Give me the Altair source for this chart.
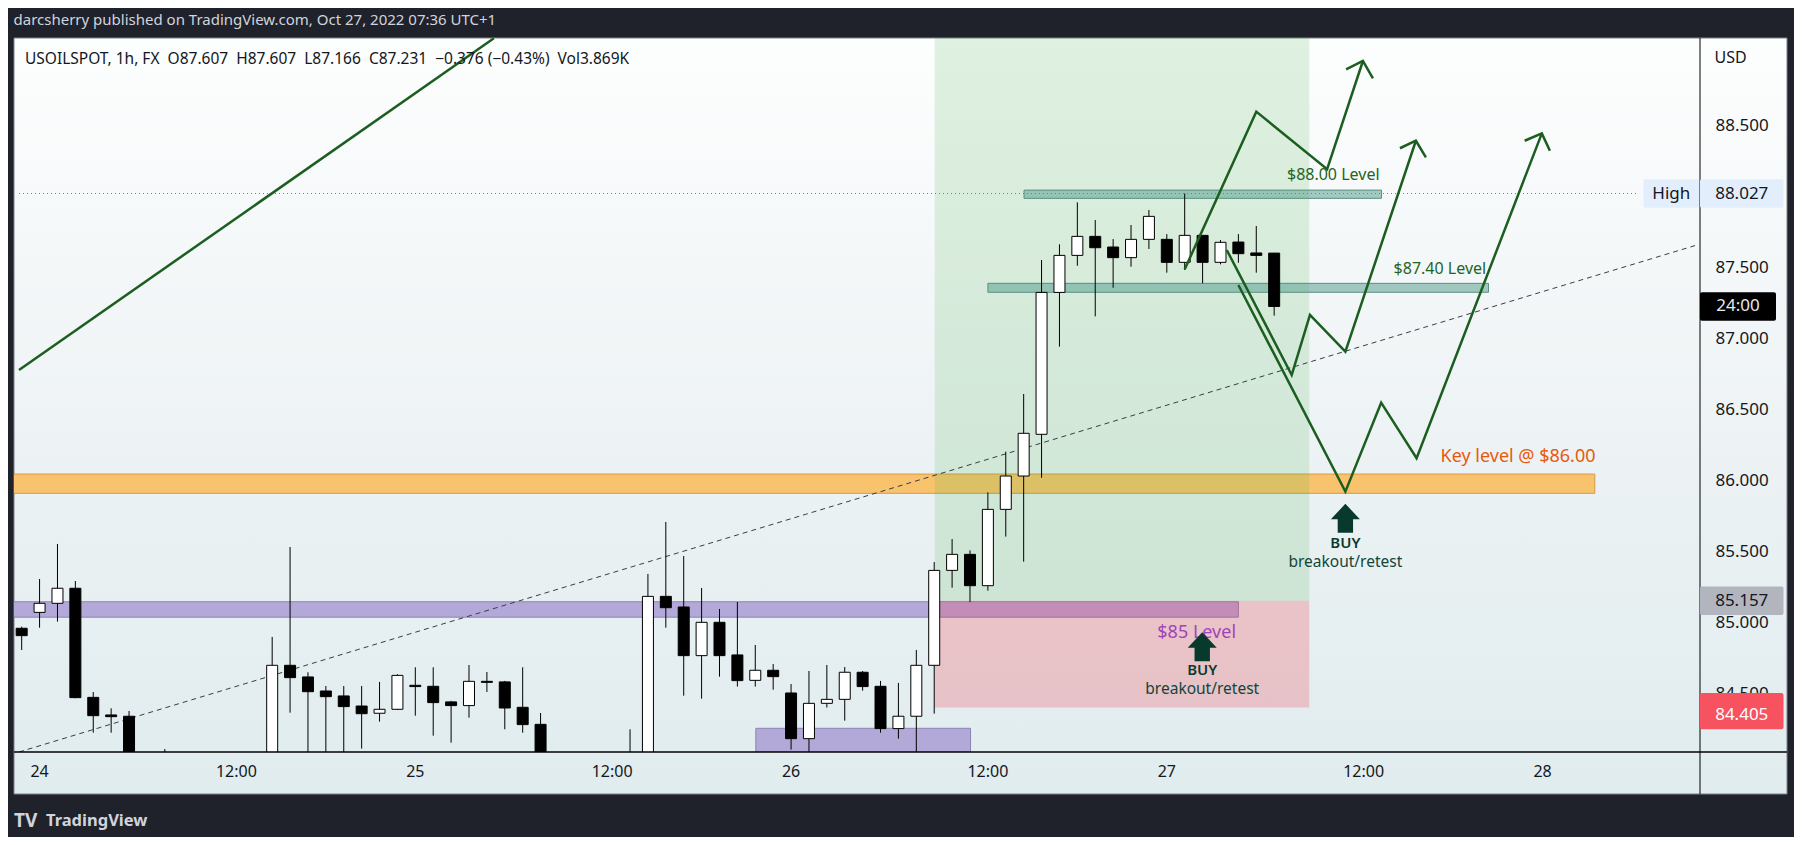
import altair as alt
import pandas as pd

FONT = "Noto Sans"

# ---------------- candles: 1h bars, index 0 = 24 Oct 00:00 ----------------
bar_idx = [-1, 0, 1, 2, 3, 4, 5, 7, 13, 14, 15, 16, 17, 18, 19, 20, 21, 22, 23, 24,
           25, 26, 27, 28, 33, 34, 35, 36, 37, 38, 39, 40, 41, 42, 43, 44, 45, 46, 47, 48,
           49, 50, 51, 52, 53, 54, 55, 56, 57, 58, 59, 60, 61, 62, 63, 64, 65, 66, 67, 68, 69]
opens = [84.963, 85.075, 85.139, 85.245, 84.476, 84.352, 84.343, 84.050, 83.980, 84.702,
         84.620, 84.521, 84.486, 84.415, 84.364, 84.392, 84.561, 84.554, 84.444, 84.418,
         84.589, 84.585, 84.406, 84.286, 84.000, 83.980, 85.188, 85.113, 84.770, 85.005,
         84.775, 84.596, 84.667, 84.507, 84.185, 84.434, 84.462, 84.653, 84.554, 84.256,
         84.343, 84.702, 85.371, 85.484, 85.263, 85.801, 86.036, 86.330, 87.330, 87.591,
         87.725, 87.650, 87.575, 87.704, 87.704, 87.542, 87.732, 87.542, 87.685, 87.608, 87.607]
highs = [84.974, 85.310, 85.557, 85.296, 84.514, 84.399, 84.380, 84.112, 84.902, 85.536,
         84.653, 84.556, 84.556, 84.556, 84.585, 84.639, 84.688, 84.688, 84.451, 84.704,
         84.655, 84.592, 84.688, 84.366, 84.251, 85.346, 85.712, 85.472, 85.247, 85.099,
         85.148, 84.845, 84.711, 84.570, 84.662, 84.704, 84.690, 84.662, 84.592, 84.578,
         84.810, 85.430, 85.592, 85.512, 85.921, 86.208, 86.614, 87.558, 87.669, 87.965,
         87.840, 87.706, 87.805, 87.911, 87.741, 88.027, 87.732, 87.699, 87.741, 87.798, 87.607]
lows = [84.810, 84.967, 85.010, 84.470, 84.227, 84.227, 83.900, 83.900, 83.950, 84.368,
        84.050, 84.070, 84.080, 84.115, 84.305, 84.387, 84.347, 84.206, 84.157, 84.333,
        84.514, 84.251, 84.227, 83.900, 83.900, 83.950, 84.967, 84.488, 84.467, 84.622,
        84.552, 84.552, 84.530, 84.108, 84.050, 84.404, 84.312, 84.523, 84.227, 84.185,
        84.070, 84.361, 85.249, 85.148, 85.228, 85.609, 85.432, 86.024, 86.948, 87.518,
        87.161, 87.363, 87.511, 87.636, 87.469, 87.488, 87.394, 87.528, 87.539, 87.469, 87.166]
closes = [84.911, 85.139, 85.245, 84.474, 84.347, 84.340, 83.950, 83.980, 84.702, 84.615,
          84.516, 84.481, 84.411, 84.361, 84.392, 84.631, 84.552, 84.439, 84.418, 84.589,
          84.582, 84.401, 84.284, 83.950, 83.950, 85.188, 85.108, 84.770, 85.005, 84.770,
          84.594, 84.667, 84.622, 84.185, 84.434, 84.462, 84.653, 84.552, 84.256, 84.343,
          84.702, 85.371, 85.484, 85.263, 85.801, 86.036, 86.337, 87.330, 87.591, 87.725,
          87.645, 87.575, 87.704, 87.866, 87.542, 87.732, 87.542, 87.683, 87.603, 87.591, 87.231]

# ---------------- axes ----------------
time_tick_idx = [0, 11, 21, 32, 42, 53, 63, 74, 84]
time_tick_labels = ["24", "12:00", "25", "12:00", "26", "12:00", "27", "12:00", "28"]
price_ticks = [84.5, 85.0, 85.5, 86.0, 86.5, 87.0, 87.5, 88.5]

# ---------------- drawings ----------------
path_ids = ["up"] * 2 + ["A"] * 4 + ["Ah"] * 3 + ["B"] * 5 + ["Bh"] * 3 + ["C"] * 5 + ["Ch"] * 3
path_i = [-1.15, 25.39,
          64.0, 68.0, 71.96, 73.96,
          73.02, 73.96, 74.52,
          66.35, 69.98, 71.0, 72.98, 76.92,
          76.03, 76.92, 77.48,
          67.0, 72.98, 74.98, 76.96, 83.96,
          83.0, 83.96, 84.41]
path_p = [86.783, 89.121,
          87.493, 88.604, 88.198, 88.961,
          88.902, 88.961, 88.839,
          87.629, 86.748, 87.171, 86.912, 88.399,
          88.346, 88.399, 88.282,
          87.382, 85.926, 86.553, 86.161, 88.451,
          88.399, 88.451, 88.329]

trend_i = [-1.15, 92.52]
trend_p = [84.091, 87.660]

high_price = 88.027
high_span = [-1.15, 89.35]

key_band = {"i0": -2.0, "i1": 86.92, "p0": 85.914, "p1": 86.050}
purple_bands_i0 = [-2.0, 40.03]
purple_bands_i1 = [67.0, 52.03]
purple_bands_p0 = [85.041, 83.90]
purple_bands_p1 = [85.150, 84.258]
teal_bands_i0 = [55.02, 53.0]
teal_bands_i1 = [75.0, 80.98]
teal_bands_p0 = [87.993, 87.331]
teal_bands_p1 = [88.051, 87.394]

pos_i0, pos_i1 = 50.03, 70.96
entry_price, stop_price, target_price = 85.157, 84.405, 89.6

level_texts = ["$88.00 Level", "$87.40 Level"]
level_i = [74.89, 80.85]
level_p = [88.158, 87.497]
key_text, key_i, key_p = "Key level @ $86.00", 86.96, 86.168
p85_text, p85_i, p85_p = "$85 Level", 66.87, 84.928

buy_i = [64.98, 72.98]
buy_arrow_p = [84.833, 85.738]
buy_word_p = [84.666, 85.561]
buy_sub_p = [84.532, 85.427]

header_text = "darcsherry published on TradingView.com, Oct 27, 2022 07:36 UTC+1"
legend_text = ("USOILSPOT, 1h, FX\u00a0\u00a0O87.607\u00a0\u00a0H87.607\u00a0\u00a0L87.166\u00a0\u00a0"
               "C87.231\u00a0\u00a0\u22120.376 (\u22120.43%)\u00a0\u00a0Vol3.869K")

# ---------------- scales ----------------
xs = alt.Scale(domain=[-1.15, 92.52], nice=False, zero=False)
ys = alt.Scale(domain=[84.091, 89.123], nice=False, zero=False)


def X(f):
    return alt.X(f, type="quantitative", scale=xs, axis=None)


def X2(f):
    return alt.X2(f)


def Y(f):
    return alt.Y(f, type="quantitative", scale=ys, axis=None)


W, H = 1686, 714
one = pd.DataFrame({"k": [0]})

candles = pd.DataFrame({"i": bar_idx, "o": opens, "h": highs, "l": lows, "c": closes})
paths = pd.DataFrame({"pid": path_ids, "i": path_i, "p": path_p})
paths["ord"] = range(len(paths))

panel = alt.Chart(one).mark_rect(
    fill=alt.LinearGradient(gradient="linear", x1=0, y1=0, x2=0, y2=1,
                            stops=[alt.GradientStop(color="#fdfefe", offset=0),
                                   alt.GradientStop(color="#eef3f5", offset=0.5),
                                   alt.GradientStop(color="#e0ecee", offset=1)]),
    stroke="#7d8189", strokeWidth=1
).encode(x=alt.value(0), x2=alt.value(1773), y=alt.value(0), y2=alt.value(756))

divider = alt.Chart(one).mark_rule(color="#000000", strokeWidth=1).encode(
    x=alt.value(W), y=alt.value(0), y2=alt.value(756))
xline = alt.Chart(one).mark_rule(color="#000000", strokeWidth=1.5).encode(
    x=alt.value(0), x2=alt.value(1773), y=alt.value(H))

kb = pd.DataFrame({k: [v] for k, v in key_band.items()})
key_rect = alt.Chart(kb).mark_rect(fill="#f8c36c", stroke="#d49a4a", strokeWidth=1, clip=True).encode(
    x=X("i0"), x2=X2("i1"), y=Y("p0"), y2=alt.Y2("p1"))

pb = pd.DataFrame({"i0": purple_bands_i0, "i1": purple_bands_i1, "p0": purple_bands_p0, "p1": purple_bands_p1})
purple_rect = alt.Chart(pb).mark_rect(fill="#b3a9d9", stroke="#8c84b4", strokeWidth=1, clip=True).encode(
    x=X("i0"), x2=X2("i1"), y=Y("p0"), y2=alt.Y2("p1"))

pos = pd.DataFrame({"i0": [pos_i0], "i1": [pos_i1], "e": [entry_price], "s": [stop_price], "t": [target_price]})
green_rect = alt.Chart(pos).mark_rect(fill="#4caf50", fillOpacity=0.17, clip=True).encode(
    x=X("i0"), x2=X2("i1"), y=Y("e"), y2=alt.Y2("t"))
pink_rect = alt.Chart(pos).mark_rect(fill="#f23645", fillOpacity=0.24, clip=True).encode(
    x=X("i0"), x2=X2("i1"), y=Y("s"), y2=alt.Y2("e"))

tb = pd.DataFrame({"i0": teal_bands_i0, "i1": teal_bands_i1, "p0": teal_bands_p0, "p1": teal_bands_p1})
teal_rect = alt.Chart(tb).mark_rect(fill="#4e9a87", fillOpacity=0.5, stroke="#5a8f80", strokeWidth=1, clip=True).encode(
    x=X("i0"), x2=X2("i1"), y=Y("p0"), y2=alt.Y2("p1"))

hd = pd.DataFrame({"i0": [high_span[0]], "i1": [high_span[1]], "p": [high_price]})
high_line = alt.Chart(hd).mark_rule(color="#787b86", strokeWidth=1, strokeDash=[1, 3], clip=True).encode(
    x=X("i0"), x2=X2("i1"), y=Y("p"))

td = pd.DataFrame({"i": trend_i, "p": trend_p})
trend = alt.Chart(td).mark_line(color="#3a3d45", strokeWidth=1, strokeDash=[5, 4], clip=True).encode(
    x=X("i"), y=Y("p"))

wicks = alt.Chart(candles).mark_rule(color="#000000", strokeWidth=1, clip=True).encode(
    x=X("i"), y=Y("l"), y2=alt.Y2("h"))
bodies = alt.Chart(candles).mark_bar(size=11, stroke="#000000", strokeWidth=1, clip=True).encode(
    x=X("i"), y=Y("o"), y2=alt.Y2("c"),
    fill=alt.condition("datum.c >= datum.o", alt.value("#ffffff"), alt.value("#000000")))

proj = alt.Chart(paths).mark_line(color="#1b5e20", strokeWidth=2.5, clip=True).encode(
    x=X("i"), y=Y("p"), detail="pid:N", order="ord:Q")

lv = pd.DataFrame({"t": level_texts, "i": level_i, "p": level_p})
level_lbl = alt.Chart(lv).mark_text(font=FONT, fontSize=16, color="#1f6424", align="right", baseline="middle").encode(
    x=X("i"), y=Y("p"), text="t:N")
kd = pd.DataFrame({"t": [key_text], "i": [key_i], "p": [key_p]})
key_lbl = alt.Chart(kd).mark_text(font=FONT, fontSize=18, color="#e8590c", align="right", baseline="middle").encode(
    x=X("i"), y=Y("p"), text="t:N")
pd85 = pd.DataFrame({"t": [p85_text], "i": [p85_i], "p": [p85_p]})
p85_lbl = alt.Chart(pd85).mark_text(font=FONT, fontSize=18, color="#a044b8", align="right", baseline="middle").encode(
    x=X("i"), y=Y("p"), text="t:N")

ARROW = "M0,-1 L1,0.07 L0.53,0.07 L0.53,1 L-0.53,1 L-0.53,0.07 L-1,0.07 Z"
bd = pd.DataFrame({"i": buy_i, "pa": buy_arrow_p, "pw": buy_word_p, "ps": buy_sub_p,
                   "w": ["BUY", "BUY"], "s": ["breakout/retest", "breakout/retest"]})
arrows = alt.Chart(bd).mark_point(shape=ARROW, filled=True, size=841, color="#08392d", opacity=1, strokeWidth=0).encode(
    x=X("i"), y=Y("pa"))
buy_w = alt.Chart(bd).mark_text(font=FONT, fontSize=15, fontWeight=600, color="#0a3a2e", align="center", baseline="middle").encode(
    x=X("i"), y=Y("pw"), text="w:N")
buy_s = alt.Chart(bd).mark_text(font=FONT, fontSize=15.5, color="#12453a", align="center", baseline="middle").encode(
    x=X("i"), y=Y("ps"), text="s:N")

tt = pd.DataFrame({"i": time_tick_idx, "t": time_tick_labels})
time_lbl = alt.Chart(tt).mark_text(font=FONT, fontSize=16, color="#131722", align="center", baseline="middle").encode(
    x=X("i"), y=alt.value(734), text="t:N")
pt = pd.DataFrame({"p": price_ticks})
price_lbl = alt.Chart(pt).mark_text(font=FONT, fontSize=17, color="#131722", align="left", baseline="middle").encode(
    x=alt.value(1701.5), y=Y("p"), text=alt.Text("p:Q", format=".3f"))
usd = alt.Chart(one).mark_text(font=FONT, fontSize=16, color="#131722", align="left", baseline="middle", text="USD").encode(
    x=alt.value(1700.6), y=alt.value(19.5))


def price_box(label, price, x0, x1, fill, txt_color, shift=0):
    d = pd.DataFrame({"p": [price], "t": [label]})
    base = alt.Chart(d).transform_calculate(p_hi="datum.p + 0.101", p_lo="datum.p - 0.101")
    box = base.mark_rect(fill=fill, cornerRadius=2, yOffset=shift).encode(
        x=alt.value(x0), x2=alt.value(x1), y=Y("p_lo"), y2=alt.Y2("p_hi"))
    txt = base.mark_text(font=FONT, fontSize=17, color=txt_color, align="center", baseline="middle", dy=shift).encode(
        x=alt.value((x0 + x1) / 2), y=Y("p"), text="t:N")
    return box + txt


box_high_lbl = price_box("High", high_price, 1629.5, 1685, "#e3eefc", "#131722")
box_high = price_box("88.027", high_price, 1686, 1769.5, "#e3eefc", "#131722")
box_close = price_box("24:00", closes[-1], 1686, 1762, "#000000", "#e6e8ee")
box_entry = price_box("85.157", entry_price, 1686, 1769.5, "#b2b5be", "#131722")
box_stop = price_box("84.405", stop_price, 1686, 1769.5, "#f7525f", "#ffffff", shift=7.5)

header = alt.Chart(one).mark_text(font=FONT, fontSize=15, color="#d1d4dc", align="left", baseline="middle",
                                  text=header_text).encode(x=alt.value(-0.5), y=alt.value(-18.5))
legend = alt.Chart(one).mark_text(font=FONT, fontSize=15.5, color="#131722", align="left", baseline="middle",
                                  text=legend_text).encode(x=alt.value(11), y=alt.value(21))
logo_tv = alt.Chart(one).mark_text(font=FONT, fontSize=19, fontWeight="bold", color="#d1d4dc", align="left",
                                   baseline="middle", text="TV").encode(x=alt.value(0), y=alt.value(783))
logo_txt = alt.Chart(one).mark_text(font=FONT, fontSize=16.5, fontWeight="bold", color="#d1d4dc", align="left",
                                    baseline="middle", text="TradingView").encode(x=alt.value(32), y=alt.value(783))

chart = alt.layer(
    panel, key_rect, purple_rect, green_rect, pink_rect, teal_rect, high_line, trend,
    wicks, bodies, proj, level_lbl, key_lbl, p85_lbl, arrows, buy_w, buy_s,
    time_lbl, price_lbl, usd, divider, xline,
    box_high_lbl, box_high, box_close, box_entry, box_stop,
    header, legend, logo_tv, logo_txt
).properties(
    width=W, height=H,
    padding={"left": 6, "top": 30, "right": 94, "bottom": 85},
    autosize=alt.AutoSizeParams(type="none"),
    background="#1f222b"
).configure_view(stroke=None)

chart.save("out.html", embed_options={"renderer": "svg", "actions": False})
